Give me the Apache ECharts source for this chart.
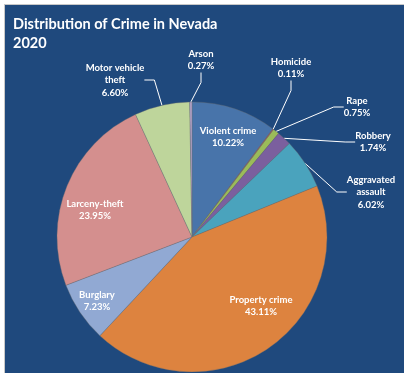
<!DOCTYPE html>
<html>
<head>
<meta charset="utf-8">
<script src="https://cdn.jsdelivr.net/npm/echarts@6/dist/echarts.min.js"></script>
<style>
  html, body { margin: 0; padding: 0; background: #ffffff; }
  #chart {
    position: absolute; left: 4px; top: 4px;
    width: 400px; height: 369px;
    border-left: 1px solid #c8c8c8; border-top: 1px solid #c8c8c8;
  }
</style>
</head>
<body>
<div id="chart"></div>
<script>
// crime categories, clockwise from 12 o'clock
const categories = ['Violent crime', 'Homicide', 'Rape', 'Robbery', 'Aggravated assault',
  'Property crime', 'Burglary', 'Larceny-theft', 'Motor vehicle theft', 'Arson'];
const percents = [10.22, 0.11, 0.75, 1.74, 6.02, 43.11, 7.23, 23.95, 6.60, 0.27];
const labelNames = ['Violent crime', 'Homicide', 'Rape', 'Robbery', 'Aggravated\nassault',
  'Property crime', 'Burglary', 'Larceny-theft', 'Motor vehicle\ntheft', 'Arson'];
const colors = ['#4874aa', '#c0504d', '#9bbb59', '#7b5f9e', '#4aa3bd',
  '#dd833f', '#91a9d3', '#d48f8e', '#bed59b', '#b0a0c8'];

// label centres; the ones in `outside` get a leader line
const outside = {
  1: [286, 63], 2: [352, 102], 3: [368, 137], 4: [366, 187], 8: [110, 75], 9: [196, 55]
};
const inside = {
  0: [223, 132], 5: [256, 301], 6: [92, 296], 7: [90, 205]
};

const font = 'Lato';
let chart = echarts.init(document.getElementById('chart'));

let data = categories.map((name, i) => {
  let item = {
    name: name,
    value: percents[i],
    itemStyle: { color: colors[i] }
  };
  if (outside[i]) {
    item.label = { position: 'outside' };
    item.labelLine = { show: true };
  } else {
    item.label = { position: 'inside' };
    item.labelLine = { show: false };
  }
  return item;
});

let option = {
  backgroundColor: '#1f497d',
  animation: false,
  title: {
    text: 'Distribution of Crime in Nevada\n2020',
    left: 8, top: 10, padding: 0,
    textStyle: { color: '#ffffff', fontFamily: font, fontWeight: 'bold', fontSize: 14.5, lineHeight: 19 }
  },
  series: [{
    type: 'pie',
    center: [187, 232],
    radius: 135,
    startAngle: 90,
    clockwise: true,
    data: data,
    itemStyle: { borderColor: 'rgba(110,110,110,0.7)', borderWidth: 0.5 },
    label: {
      color: '#ffffff',
      fontFamily: font,
      fontWeight: 'bold',
      fontSize: 9.5,
      lineHeight: 12.5,
      align: 'center',
      formatter: p => labelNames[p.dataIndex] + '\n' + percents[p.dataIndex].toFixed(2) + '%'
    },
    labelLine: {
      lineStyle: { color: '#ffffff', width: 1 },
      length: 10, length2: 10
    },
    labelLayout: function (p) {
      let pos = outside[p.dataIndex] || inside[p.dataIndex];
      if (pos) {
        return { x: pos[0], y: pos[1], align: 'center', verticalAlign: 'middle' };
      }
      return {};
    }
  }]
};

chart.setOption(option);
</script>
</body>
</html>
